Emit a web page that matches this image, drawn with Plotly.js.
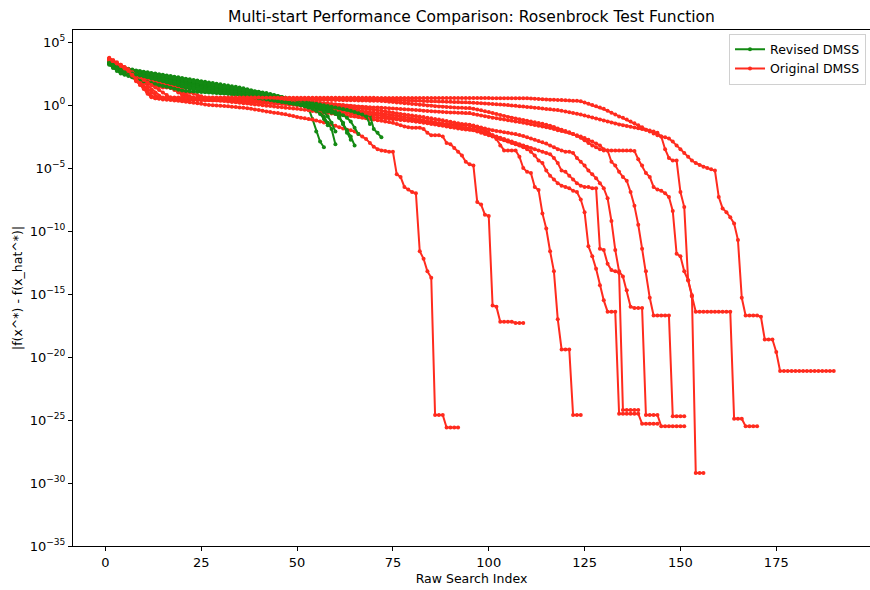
<!DOCTYPE html>
<html><head><meta charset="utf-8">
<script src="https://cdn.plot.ly/plotly-3.0.1.min.js"></script>
<style>html,body{margin:0;padding:0;background:#fff}</style>
</head><body><div id="chart" style="width:870px;height:590px"></div>
<script>
// Values are log10 of |f(x*) - f(x_hat*)|, one per raw search index (starting at 1).
const revisedRun1 = [3.3,3.1,2.95,2.8,2.7,2.6,2.5,2.4,2.3,2.2,
2.1,2.0,1.95,1.85,1.8,1.7,1.6,1.55,1.45,1.4,
1.35,1.3,1.25,1.2,1.15,1.12,1.1,1.05,1.02,1.0,
0.97,0.94,0.9,0.88,0.85,0.8,0.75,0.7,0.65,0.6,
0.55,0.48,0.42,0.36,0.3,0.25,0.2,0.15,0.1,0.05,
0.0,-0.1,-0.25,-1.1,-2.1,-2.9,-3.35];
const revisedRun2 = [3.4,3.2,3.05,2.95,2.85,2.75,2.7,2.62,2.55,2.5,
2.42,2.35,2.3,2.25,2.2,2.12,2.05,2.0,1.95,1.9,
1.85,1.8,1.75,1.7,1.62,1.55,1.5,1.45,1.4,1.35,
1.3,1.25,1.2,1.15,1.1,1.05,1.0,0.95,0.9,0.85,
0.8,0.75,0.7,0.62,0.55,0.5,0.45,0.4,0.35,0.3,
0.22,0.15,0.05,-0.05,-0.2,-0.4,-0.9,-1.4,-1.9,-3.1];
const revisedRun3 = [3.35,3.15,3.0,2.9,2.8,2.72,2.65,2.6,2.55,2.5,
2.45,2.4,2.35,2.3,2.25,2.2,2.15,2.1,2.05,2.0,
1.95,1.9,1.85,1.8,1.75,1.7,1.65,1.6,1.55,1.5,
1.45,1.4,1.35,1.3,1.25,1.2,1.15,1.1,1.05,1.0,
0.92,0.85,0.78,0.7,0.62,0.55,0.48,0.42,0.36,0.3,
0.25,0.2,0.12,0.05,-0.05,-0.15,-0.25,-0.35,-0.45,-0.6,
-1.0,-1.5,-2.0,-2.5,-3.2];
const revisedRun4 = [3.45,3.3,3.15,3.05,2.95,2.88,2.82,2.75,2.7,2.65,
2.6,2.55,2.5,2.45,2.4,2.35,2.3,2.25,2.2,2.15,
2.1,2.05,2.0,1.95,1.9,1.85,1.8,1.75,1.7,1.65,
1.6,1.55,1.5,1.45,1.4,1.33,1.25,1.18,1.1,1.05,
1.0,0.95,0.88,0.8,0.72,0.65,0.58,0.52,0.46,0.4,
0.35,0.3,0.25,0.2,0.15,0.1,0.05,0.0,-0.05,-0.1,
-0.15,-0.2,-0.25,-0.3,-0.35,-0.4,-0.5,-0.65,-0.8,-1.9,
-2.2,-2.55];
const revisedRun5 = [3.3,3.1,2.9,2.75,2.65,2.55,2.45,2.4,2.35,2.3,
2.25,2.2,2.12,2.05,2.0,1.95,1.9,1.85,1.8,1.75,
1.7,1.65,1.6,1.55,1.5,1.45,1.42,1.38,1.34,1.3,
1.26,1.22,1.18,1.14,1.1,1.05,1.0,0.95,0.9,0.85,
0.8,0.72,0.65,0.58,0.5,0.44,0.38,0.32,0.26,0.2,
0.12,0.05,-0.02,-0.1,-0.2,-0.3,-0.4,-0.5,-0.6,-0.7,
-0.9,-1.5,-2.2,-2.75];
const revisedRun6 = [3.25,3.0,2.8,2.6,2.45,2.4,2.35,2.3,2.25,2.2,
2.15,2.1,2.05,2.0,1.95,1.9,1.85,1.8,1.75,1.7,
1.62,1.55,1.5,1.45,1.4,1.35,1.3,1.26,1.22,1.18,
1.14,1.1,1.06,1.02,0.98,0.94,0.9,0.85,0.8,0.75,
0.7,0.64,0.58,0.52,0.46,0.4,0.34,0.28,0.22,0.16,
0.1,0.04,-0.04,-0.12,-0.22,-0.35,-0.55,-0.9,-1.4,-2.1];
const revisedRun7 = [3.4,3.25,3.1,3.0,2.9,2.8,2.7,2.6,2.5,2.42,
2.35,2.28,2.2,2.12,2.05,1.98,1.9,1.82,1.75,1.68,
1.6,1.52,1.45,1.4,1.35,1.3,1.25,1.2,1.15,1.1,
1.08,1.05,1.02,1.0,0.96,0.92,0.88,0.84,0.8,0.76,
0.72,0.68,0.63,0.58,0.53,0.48,0.43,0.38,0.33,0.28,
0.23,0.18,0.12,0.06,0.0,-0.08,-0.16,-0.25,-0.4,-0.6,
-1.0,-1.4];
const revisedRun8 = [3.2,2.95,2.7,2.5,2.4,2.3,2.2,2.1,2.0,1.9,
1.82,1.75,1.68,1.6,1.52,1.45,1.38,1.3,1.22,1.15,
1.12,1.1,1.08,1.06,1.04,1.02,1.0,0.98,0.96,0.94,
0.92,0.9,0.88,0.84,0.8,0.76,0.72,0.68,0.64,0.6,
0.55,0.5,0.45,0.4,0.35,0.3,0.25,0.2,0.15,0.1,
0.05,0.0,-0.05,-0.1,-0.15,-0.2,-0.28,-0.36,-0.45,-0.55,
-0.65,-0.8,-1.0,-1.3,-1.8,-2.3];
const revisedRun9 = [3.35,3.2,3.05,2.95,2.85,2.78,2.72,2.66,2.6,2.55,
2.5,2.45,2.4,2.35,2.3,2.25,2.2,2.15,2.1,2.05,
2.0,1.95,1.9,1.85,1.8,1.74,1.68,1.62,1.56,1.5,
1.45,1.4,1.35,1.3,1.25,1.2,1.15,1.1,1.05,1.0,
0.94,0.88,0.82,0.76,0.7,0.64,0.58,0.52,0.46,0.4,
0.34,0.28,0.22,0.16,0.1,0.04,-0.02,-0.08,-0.14,-0.2,
-0.26,-0.32,-0.38,-0.45,-0.55,-0.65,-0.75,-0.9,-1.5];
const revisedRun10 = [3.3,3.1,2.9,2.78,2.68,2.58,2.5,2.42,2.35,2.28,
2.2,2.12,2.05,1.98,1.9,1.82,1.75,1.68,1.6,1.52,
1.45,1.38,1.32,1.26,1.2,1.16,1.12,1.08,1.04,1.0,
0.96,0.92,0.88,0.84,0.8,0.75,0.7,0.65,0.6,0.55,
0.5,0.45,0.4,0.35,0.3,0.25,0.2,0.15,0.1,0.04,
-0.02,-0.1,-0.2,-0.3,-0.45,-0.7,-1.1,-1.6];

const originalRun1 = [3.75,3.55,3.3,3.05,2.8,2.5,2.2,1.9,1.6,1.3,
1.0,0.7,0.55,0.5,0.45,0.42,0.4,0.37,0.34,0.3,
0.26,0.22,0.18,0.14,0.1,0.05,0.0,-0.02,-0.04,-0.06,
-0.08,-0.1,-0.13,-0.16,-0.19,-0.22,-0.25,-0.3,-0.35,-0.4,
-0.45,-0.5,-0.55,-0.6,-0.63,-0.68,-0.73,-0.8,-0.87,-0.95,
-1.0,-1.05,-1.1,-1.15,-1.22,-1.3,-1.38,-1.45,-1.55,-1.65,
-1.75,-1.85,-1.95,-2.0,-2.1,-2.3,-2.5,-2.7,-3.0,-3.3,
-3.5,-3.6,-3.65,-3.7,-3.7,-5.5,-5.7,-6.5,-6.7,-6.9,
-7.0,-11.6,-12.2,-13.2,-13.7,-24.6,-24.6,-24.6,-25.6,-25.6,
-25.6,-25.6];
const originalRun2 = [3.55,3.35,3.15,2.95,2.75,2.5,2.25,2.0,1.75,1.5,
1.25,1.0,0.75,0.55,0.5,0.49,0.48,0.47,0.46,0.45,
0.44,0.43,0.42,0.41,0.4,0.39,0.38,0.37,0.36,0.35,
0.32,0.28,0.25,0.22,0.18,0.15,0.12,0.08,0.05,0.02,
-0.02,-0.05,-0.08,-0.12,-0.15,-0.18,-0.21,-0.24,-0.27,-0.3,
-0.34,-0.38,-0.42,-0.46,-0.5,-0.54,-0.58,-0.62,-0.66,-0.7,
-0.74,-0.78,-0.82,-0.86,-0.9,-0.95,-1.0,-1.05,-1.1,-1.15,
-1.2,-1.25,-1.3,-1.35,-1.4,-1.5,-1.6,-1.7,-1.75,-1.8,
-1.8,-1.8,-1.9,-2.2,-2.4,-2.4,-2.4,-2.5,-3.0,-3.1,
-3.4,-3.7,-4.0,-4.5,-4.7,-4.8,-7.7,-7.9,-8.7,-8.8,
-15.9,-16.0,-17.2,-17.2,-17.2,-17.2,-17.3,-17.3,-17.3];
const originalRun3 = [3.65,3.45,3.25,3.05,2.85,2.65,2.45,2.25,2.1,1.95,
1.85,1.75,1.7,1.65,1.6,1.55,1.5,1.45,1.3,1.1,
0.9,0.7,0.5,0.42,0.42,0.42,0.42,0.42,0.42,0.42,
0.4,0.38,0.36,0.34,0.32,0.3,0.28,0.26,0.24,0.22,
0.2,0.18,0.16,0.14,0.12,0.1,0.08,0.06,0.03,0.0,
-0.05,-0.1,-0.15,-0.2,-0.25,-0.3,-0.35,-0.4,-0.45,-0.5,
-0.55,-0.6,-0.65,-0.7,-0.75,-0.8,-0.85,-0.9,-0.95,-0.98,
-1.0,-1.03,-1.06,-1.09,-1.12,-1.15,-1.18,-1.21,-1.24,-1.27,
-1.3,-1.33,-1.36,-1.39,-1.42,-1.45,-1.48,-1.5,-1.52,-1.54,
-1.56,-1.57,-1.58,-1.59,-1.6,-1.7,-1.8,-1.9,-2.0,-2.2,
-2.4,-2.7,-3.2,-3.6,-3.6,-3.6,-3.6,-4.1,-5.0,-5.3,
-5.4,-6.5,-6.75,-8.6,-9.8,-11.6,-13.2,-17.0,-19.4,-19.4,
-19.4,-24.6,-24.6,-24.6];
const originalRun4 = [3.6,3.4,3.2,3.0,2.8,2.6,2.4,2.2,2.0,1.85,
1.7,1.6,1.5,1.45,1.4,1.4,1.35,1.2,1.0,0.8,
0.6,0.45,0.42,0.42,0.42,0.42,0.42,0.42,0.42,0.42,
0.4,0.39,0.37,0.36,0.34,0.33,0.31,0.3,0.28,0.27,
0.25,0.24,0.22,0.21,0.19,0.18,0.16,0.14,0.12,0.1,
0.06,0.02,-0.02,-0.06,-0.1,-0.14,-0.18,-0.22,-0.26,-0.3,
-0.35,-0.4,-0.45,-0.5,-0.55,-0.6,-0.64,-0.68,-0.72,-0.76,
-0.8,-0.85,-0.9,-0.95,-1.0,-1.05,-1.1,-1.15,-1.2,-1.25,
-1.3,-1.35,-1.4,-1.45,-1.5,-1.55,-1.6,-1.65,-1.7,-1.75,
-1.8,-1.85,-1.9,-1.93,-1.96,-2.0,-2.1,-2.2,-2.3,-2.4,
-2.5,-2.6,-2.7,-2.8,-2.9,-3.0,-3.1,-3.2,-3.35,-3.5,
-3.7,-4.0,-4.4,-4.6,-5.2,-5.6,-5.9,-6.2,-6.4,-6.5,
-6.6,-6.8,-6.9,-7.5,-8.5,-11.2,-12.0,-13.0,-14.3,-15.5,
-16.4,-16.4,-16.4,-24.5,-24.5,-24.5,-24.5,-24.5,-24.5,-25.3,
-25.3,-25.3,-25.3,-25.3];
const originalRun5 = [3.7,3.55,3.4,3.2,3.0,2.75,2.5,2.25,2.0,1.75,
1.5,1.25,1.0,0.75,0.55,0.5,0.5,0.49,0.49,0.48,
0.48,0.48,0.47,0.47,0.47,0.46,0.46,0.46,0.45,0.45,
0.44,0.43,0.42,0.41,0.4,0.38,0.37,0.36,0.35,0.34,
0.33,0.32,0.31,0.3,0.28,0.26,0.25,0.23,0.22,0.2,
0.16,0.12,0.08,0.04,0.0,-0.04,-0.08,-0.12,-0.16,-0.2,
-0.24,-0.28,-0.32,-0.36,-0.4,-0.44,-0.48,-0.52,-0.55,-0.58,
-0.6,-0.65,-0.7,-0.75,-0.8,-0.85,-0.9,-0.95,-1.0,-1.05,
-1.1,-1.15,-1.2,-1.25,-1.3,-1.36,-1.42,-1.48,-1.54,-1.6,
-1.65,-1.7,-1.75,-1.8,-1.83,-1.9,-2.0,-2.1,-2.2,-2.3,
-2.4,-2.5,-2.6,-2.7,-2.8,-2.9,-3.0,-3.1,-3.2,-3.3,
-3.4,-3.5,-3.6,-3.7,-3.8,-3.9,-4.2,-4.6,-5.2,-5.3,
-5.6,-5.9,-6.2,-6.4,-6.5,-6.5,-6.6,-6.6,-11.4,-11.5,
-12.6,-13.1,-13.2,-13.3,-24.2,-24.2,-24.2,-24.2,-24.2];
const originalRun6 = [3.6,3.45,3.3,3.15,3.0,2.85,2.7,2.55,2.4,2.25,
2.1,2.0,1.9,1.8,1.7,1.6,1.5,1.4,1.3,1.2,
1.1,1.0,0.9,0.8,0.7,0.6,0.5,0.47,0.47,0.47,
0.45,0.44,0.43,0.43,0.42,0.41,0.4,0.39,0.39,0.38,
0.37,0.36,0.35,0.35,0.34,0.33,0.32,0.31,0.31,0.3,
0.27,0.24,0.2,0.17,0.13,0.1,0.06,0.03,0.0,-0.04,
-0.07,-0.1,-0.14,-0.17,-0.21,-0.24,-0.28,-0.31,-0.34,-0.37,
-0.4,-0.45,-0.5,-0.55,-0.6,-0.65,-0.7,-0.74,-0.78,-0.82,
-0.86,-0.9,-0.95,-1.0,-1.05,-1.1,-1.15,-1.2,-1.26,-1.32,
-1.38,-1.44,-1.5,-1.53,-1.56,-1.62,-1.7,-1.78,-1.86,-1.94,
-2.0,-2.05,-2.1,-2.15,-2.2,-2.25,-2.3,-2.38,-2.46,-2.55,
-2.65,-2.75,-2.85,-2.95,-3.05,-3.2,-3.35,-3.5,-3.6,-3.7,
-3.7,-3.8,-4.2,-4.5,-4.8,-5.2,-5.5,-5.8,-6.2,-6.6,
-7.4,-9.2,-11.5,-13.2,-13.6,-14.7,-16.0,-16.1,-16.1,-16.1,
-24.6,-24.6,-24.6,-24.6,-25.5,-25.5,-25.5,-25.5,-25.5,-25.5,
-25.5];
const originalRun7 = [3.55,3.4,3.2,3.0,2.8,2.6,2.45,2.3,2.15,2.0,
1.9,1.8,1.7,1.6,1.5,1.45,1.4,1.3,1.1,0.9,
0.7,0.55,0.5,0.5,0.5,0.5,0.5,0.5,0.5,0.5,
0.48,0.47,0.47,0.46,0.45,0.44,0.44,0.43,0.42,0.41,
0.41,0.4,0.39,0.39,0.38,0.37,0.37,0.36,0.36,0.35,
0.33,0.3,0.27,0.24,0.21,0.18,0.15,0.12,0.09,0.06,
0.03,0.0,-0.03,-0.06,-0.09,-0.11,-0.13,-0.15,-0.17,-0.19,
-0.2,-0.22,-0.24,-0.26,-0.28,-0.3,-0.32,-0.34,-0.36,-0.38,
-0.4,-0.42,-0.44,-0.46,-0.48,-0.5,-0.52,-0.54,-0.56,-0.58,
-0.59,-0.6,-0.61,-0.62,-0.63,-0.7,-0.76,-0.82,-0.88,-0.94,
-1.0,-1.05,-1.1,-1.15,-1.2,-1.25,-1.3,-1.35,-1.4,-1.46,
-1.52,-1.58,-1.64,-1.7,-1.76,-1.82,-1.9,-2.0,-2.05,-2.12,
-2.2,-2.3,-2.4,-2.5,-2.62,-2.75,-2.9,-3.05,-3.2,-3.5,
-3.6,-4.5,-4.8,-5.3,-5.7,-6.0,-6.9,-8.0,-9.5,-11.4,
-13.2,-15.3,-16.7,-16.7,-16.7,-16.7,-16.7,-24.7,-24.7,-24.7,
-24.7];
const originalRun8 = [3.6,3.45,3.25,3.05,2.85,2.6,2.35,2.05,1.75,1.4,
1.0,0.7,0.55,0.55,0.55,0.55,0.55,0.55,0.55,0.55,
0.55,0.55,0.55,0.55,0.55,0.55,0.55,0.55,0.55,0.55,
0.53,0.53,0.53,0.53,0.53,0.53,0.53,0.53,0.53,0.53,
0.51,0.51,0.51,0.51,0.51,0.51,0.51,0.51,0.51,0.51,
0.49,0.49,0.49,0.49,0.49,0.48,0.48,0.48,0.48,0.48,
0.47,0.47,0.47,0.47,0.47,0.46,0.46,0.46,0.46,0.46,
0.45,0.44,0.43,0.42,0.41,0.4,0.39,0.38,0.37,0.36,
0.35,0.34,0.33,0.32,0.31,0.3,0.29,0.28,0.27,0.26,
0.25,0.24,0.23,0.22,0.2,0.18,0.16,0.14,0.12,0.1,
0.08,0.06,0.04,0.02,0.0,-0.03,-0.06,-0.09,-0.12,-0.15,
-0.18,-0.21,-0.24,-0.28,-0.31,-0.34,-0.37,-0.4,-0.45,-0.5,
-0.56,-0.62,-0.68,-0.75,-0.82,-0.9,-0.98,-1.06,-1.14,-1.22,
-1.3,-1.38,-1.46,-1.54,-1.6,-1.66,-1.72,-1.78,-1.84,-1.9,
-1.96,-2.02,-2.1,-2.2,-2.5,-3.5,-4.2,-4.4,-4.4,-6.9,
-8.1,-13.9,-15.1,-29.2,-29.2,-29.2];
const originalRun9 = [3.65,3.5,3.35,3.2,3.0,2.8,2.6,2.4,2.2,2.0,
1.8,1.6,1.4,1.2,1.0,0.8,0.6,0.52,0.5,0.5,
0.5,0.5,0.5,0.5,0.5,0.5,0.5,0.5,0.5,0.5,
0.49,0.49,0.49,0.49,0.49,0.48,0.48,0.48,0.48,0.48,
0.47,0.47,0.47,0.47,0.47,0.46,0.46,0.46,0.46,0.46,
0.45,0.44,0.44,0.43,0.43,0.42,0.42,0.41,0.41,0.4,
0.4,0.39,0.39,0.38,0.38,0.37,0.37,0.36,0.35,0.34,
0.34,0.32,0.3,0.27,0.24,0.21,0.18,0.15,0.12,0.09,
0.06,0.03,0.0,-0.03,-0.06,-0.09,-0.12,-0.14,-0.16,-0.18,
-0.2,-0.21,-0.22,-0.23,-0.24,-0.3,-0.36,-0.42,-0.48,-0.55,
-0.62,-0.7,-0.78,-0.86,-0.94,-1.0,-1.06,-1.12,-1.18,-1.24,
-1.3,-1.36,-1.42,-1.48,-1.56,-1.64,-1.74,-1.85,-1.95,-2.05,
-2.15,-2.3,-2.45,-2.6,-2.8,-3.0,-3.2,-3.35,-3.5,-3.6,
-3.6,-3.6,-3.6,-3.6,-3.6,-3.6,-3.6,-3.65,-4.3,-4.8,
-5.4,-5.7,-6.5,-6.7,-6.8,-7.0,-7.3,-8.4,-11.8,-12.0,
-13.2,-13.9,-15.2,-16.4,-16.4,-16.4,-16.4,-16.4,-16.4,-16.4,
-16.4,-16.4,-16.4,-24.9,-24.9,-24.9,-25.5,-25.5,-25.5,-25.5];
const originalRun10 = [3.7,3.5,3.3,3.1,2.9,2.7,2.4,2.1,1.7,1.3,
0.9,0.62,0.6,0.6,0.6,0.6,0.6,0.6,0.6,0.6,
0.6,0.6,0.6,0.6,0.6,0.6,0.6,0.6,0.6,0.6,
0.6,0.6,0.6,0.6,0.6,0.6,0.6,0.6,0.6,0.6,
0.59,0.59,0.59,0.59,0.59,0.59,0.59,0.59,0.59,0.59,
0.58,0.58,0.58,0.58,0.58,0.58,0.58,0.58,0.58,0.58,
0.58,0.58,0.58,0.58,0.58,0.58,0.58,0.58,0.58,0.58,
0.57,0.57,0.57,0.57,0.57,0.57,0.57,0.57,0.57,0.57,
0.56,0.56,0.56,0.56,0.56,0.56,0.56,0.56,0.56,0.56,
0.56,0.56,0.56,0.56,0.56,0.56,0.56,0.56,0.56,0.56,
0.55,0.55,0.55,0.55,0.55,0.55,0.55,0.55,0.54,0.54,
0.53,0.5,0.48,0.46,0.45,0.43,0.42,0.4,0.4,0.38,
0.37,0.35,0.34,0.3,0.2,0.1,0.0,-0.1,-0.2,-0.3,
-0.45,-0.6,-0.75,-0.9,-1.0,-1.15,-1.3,-1.45,-1.6,-1.75,
-1.95,-2.1,-2.25,-2.4,-2.5,-2.55,-2.65,-2.9,-3.2,-3.5,
-3.8,-4.1,-4.4,-4.6,-4.75,-4.9,-5.0,-5.1,-5.2,-7.3,
-8.2,-8.5,-8.9,-9.4,-10.7,-15.3,-16.7,-16.7,-16.7,-16.7,
-16.8,-18.6,-18.6,-18.6,-19.6,-21.1,-21.1,-21.1,-21.1,-21.1,
-21.1,-21.1,-21.1,-21.1,-21.1,-21.1,-21.1,-21.1,-21.1,-21.1];

const revisedRuns = [revisedRun1,revisedRun2,revisedRun3,revisedRun4,revisedRun5,revisedRun6,revisedRun7,revisedRun8,revisedRun9,revisedRun10];
const originalRuns = [originalRun1,originalRun2,originalRun3,originalRun4,originalRun5,originalRun6,originalRun7,originalRun8,originalRun9,originalRun10];
const seriesNames = ['Revised DMSS','Original DMSS'];
const yTickExponents = [5,0,-5,-10,-15,-20,-25,-30,-35];
const xTickValues = [0,25,50,75,100,125,150,175];

const GREEN = '#138a13';
const RED = '#ff2b1e';

function makeTrace(exps, name, color, showLeg){
  return {
    x: exps.map((_, i) => i + 1),
    y: exps.map(e => Math.pow(10, e)),
    type: 'scatter', mode: 'lines+markers', name: name,
    legendgroup: name, showlegend: showLeg,
    line: {color: color, width: 2},
    marker: {color: color, size: 4},
    hoverinfo: 'skip'
  };
}
const traces = [];
for (let i = 0; i < 10; i++) {
  traces.push(makeTrace(revisedRuns[i], seriesNames[0], GREEN, i === 0));
  traces.push(makeTrace(originalRuns[i], seriesNames[1], RED, i === 0));
}

const layout = {
  width: 870, height: 590,
  margin: {l: 73, r: 0, t: 30, b: 44},
  paper_bgcolor: '#ffffff', plot_bgcolor: '#ffffff',
  font: {family: 'DejaVu Sans, sans-serif', size: 13, color: '#000'},
  title: {text: 'Multi-start Performance Comparison: Rosenbrock Test Function',
          font: {size: 15.5}, x: 0.5, xref: 'paper', xanchor: 'center',
          y: 1 - 17/590, yref: 'container', yanchor: 'middle'},
  showlegend: true,
  legend: {x: 0.995, xanchor: 'right', y: 0.993, yanchor: 'top',
           bgcolor: 'rgba(255,255,255,0.8)', bordercolor: '#d0d0d0', borderwidth: 1,
           font: {size: 12.5}, traceorder: 'normal', itemwidth: 30, tracegroupgap: 0},
  xaxis: {range: [-8.45, 199.45], tickvals: xTickValues, ticks: 'outside', ticklen: 4,
          tickwidth: 1, tickcolor: '#000', showline: true, linecolor: '#000', linewidth: 1,
          mirror: true, showgrid: false, zeroline: false, tickfont: {size: 13},
          title: {text: 'Raw Search Index', standoff: 5, font: {size: 12.5}}},
  yaxis: {type: 'log', range: [-35, 5.96],
          tickvals: yTickExponents.map(e => Math.pow(10, e)),
          ticktext: yTickExponents.map(e => '10<sup>' + (e < 0 ? '\u2212' + (-e) : e) + '</sup>'),
          ticks: 'outside', ticklen: 4, tickwidth: 1, tickcolor: '#000',
          showline: true, linecolor: '#000', linewidth: 1, mirror: true,
          showgrid: false, zeroline: false, tickfont: {size: 13},
          title: {text: '|f(x^*) - f(x_hat^*)|', standoff: 4, font: {size: 12.5}}}
};
Plotly.newPlot('chart', traces, layout, {displayModeBar: false, staticPlot: true});
</script></body></html>
